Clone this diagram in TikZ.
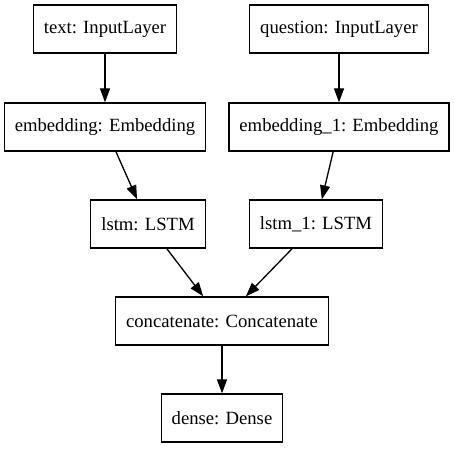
\documentclass[tikz,border=0pt]{standalone}
\usepackage{fontspec}
\setmainfont{Liberation Serif}
\usetikzlibrary{arrows.meta}
\begin{document}
\begin{tikzpicture}[x=1pt,y=-1pt]
\tikzset{layer/.style={rectangle,draw,line width=1.3pt,minimum height=48pt,inner xsep=10.5pt,inner ysep=0pt,font=\fontsize{18.67}{22}\selectfont},
  flow/.style={-{Triangle[length=14pt,width=10pt]},line width=1.3pt}}
\useasboundingbox[fill=white] (0,0) rectangle (454,449);

  \draw (105,29) node[layer](text) {text: InputLayer};
  \draw (339,29) node[layer](question) {question: InputLayer};
  \draw (105,127) node[layer](emb) {embedding: Embedding};
  \draw (339,127) node[layer](emb1) {embedding\_1: Embedding};
  \draw (148,224) node[layer](lstm) {lstm: LSTM};
  \draw (316,224) node[layer](lstm1) {lstm\_1: LSTM};
  \draw (222,321) node[layer](concat) {concatenate: Concatenate};
  \draw (222,418) node[layer](dense) {dense: Dense};

	\draw[flow] (text) -- (emb);
	\draw[flow] (question) -- (emb1);

	\draw[flow] (emb) -- (lstm);
	\draw[flow] (emb1) -- (lstm1);

	\draw[flow] (lstm) -- (concat);
	\draw[flow] (lstm1) -- (concat);

	\draw[flow] (concat) -- (dense);
\end{tikzpicture}
\end{document}
